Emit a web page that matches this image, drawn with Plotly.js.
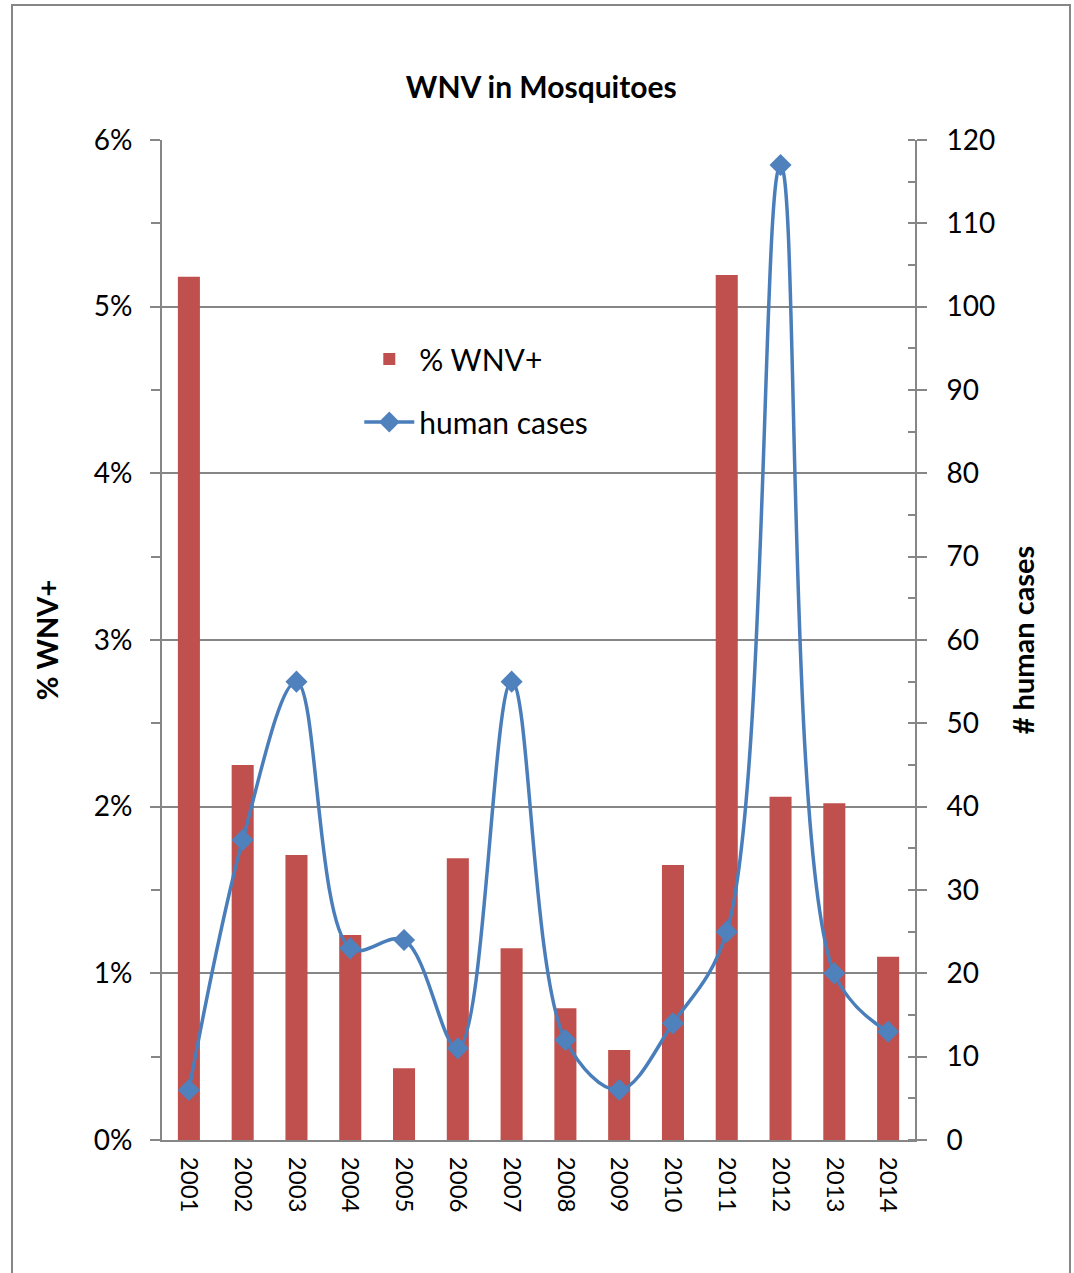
<!DOCTYPE html>
<html>
<head>
<meta charset="utf-8">
<script src="https://cdn.plot.ly/plotly-3.0.1.min.js"></script>
<style>
  html, body { margin: 0; padding: 0; background: #ffffff; }
  #chart { width: 1074px; height: 1273px; }
</style>
</head>
<body>
<div id="chart"></div>
<script>
// Data
const years = ['2001','2002','2003','2004','2005','2006','2007','2008','2009','2010','2011','2012','2013','2014'];
const pctWNV = [0.0518, 0.0225, 0.0171, 0.0123, 0.0043, 0.0169, 0.0115, 0.0079, 0.0054, 0.0165, 0.0519, 0.0206, 0.0202, 0.0110];
const humanCases = [6, 36, 55, 23, 24, 11, 55, 12, 6, 14, 25, 117, 20, 13];

const FONT = 'Lato, "Open Sans", "DejaVu Sans", sans-serif';
const GRAY = '#868686';

const traces = [
  {
    type: 'bar',
    name: '% WNV+',
    x: years,
    y: pctWNV,
    marker: { color: '#C0504D' },
    legendgroup: 'a',
    yaxis: 'y',
    hoverinfo: 'x+y'
  },
  {
    type: 'scatter',
    mode: 'lines+markers',
    name: 'human cases',
    x: years,
    y: humanCases,
    yaxis: 'y2',
    legendgroup: 'b',
    line: { color: '#4A7EBB', width: 3.5, shape: 'spline', smoothing: 1 },
    marker: { symbol: 'diamond', size: 17, color: '#4F81BD' }
  }
];

const layout = {
  width: 1074,
  height: 1273,
  margin: { l: 162, r: 159, t: 140, b: 133, pad: 0 },
  paper_bgcolor: '#ffffff',
  plot_bgcolor: '#ffffff',
  font: { family: FONT, color: '#000000' },
  title: {
    text: '<b>WNV in Mosquitoes</b>',
    font: { family: FONT, size: 30, color: '#000000' },
    x: 0.504, xanchor: 'center',
    y: 1 - 87 / 1273, yanchor: 'middle', yref: 'container'
  },
  bargap: 0.59,
  showlegend: true,
  legend: {
    x: 0.262, xanchor: 'left',
    y: 0.807, yanchor: 'top',
    bgcolor: 'rgba(0,0,0,0)',
    font: { family: FONT, size: 30, color: '#000000' },
    traceorder: 'grouped',
    tracegroupgap: 21,
    itemwidth: 50
  },
  xaxis: {
    type: 'category',
    range: [-0.5, 13.5],
    showline: true, linecolor: GRAY, linewidth: 2,
    ticks: '',
    tickangle: 90,
    ticklabelstandoff: 10,
    tickfont: { family: FONT, size: 24, color: '#000000' },
    showgrid: false,
    zeroline: false,
    automargin: false
  },
  yaxis: {
    range: [0, 0.06],
    dtick: 0.01,
    tickformat: '.0%',
    showline: true, linecolor: GRAY, linewidth: 2,
    ticks: 'outside', ticklen: 10, tickwidth: 2, tickcolor: GRAY,
    minor: { dtick: 0.005, ticks: 'outside', ticklen: 9, tickwidth: 2, tickcolor: GRAY, showgrid: false },
    showgrid: true, gridcolor: GRAY, gridwidth: 2,
    zeroline: false,
    ticklabelstandoff: 12,
    tickfont: { family: FONT, size: 28, color: '#000000' },
    title: { text: '<b>% WNV+</b>', font: { family: FONT, size: 29, color: '#000000' }, standoff: 27 },
    automargin: false
  },
  yaxis2: {
    overlaying: 'y',
    side: 'right',
    range: [0, 120],
    dtick: 10,
    showline: true, linecolor: GRAY, linewidth: 2,
    ticks: 'outside', ticklen: 10, tickwidth: 2, tickcolor: GRAY,
    minor: { dtick: 5, ticks: 'inside', ticklen: 7, tickwidth: 2, tickcolor: GRAY, showgrid: false },
    showgrid: false,
    zeroline: false,
    ticklabelstandoff: 14,
    tickfont: { family: FONT, size: 28, color: '#000000' },
    title: { text: '<b># human cases</b>', font: { family: FONT, size: 29, color: '#000000' }, standoff: 19 },
    automargin: false
  },
  shapes: [
    {
      type: 'rect', xref: 'paper', yref: 'paper',
      x0: (12 - 162) / 753, x1: (1070 - 162) / 753,
      y0: -0.15, y1: (1140 - 5) / 1000,
      line: { color: GRAY, width: 2 },
      fillcolor: 'rgba(0,0,0,0)',
      layer: 'below'
    }
  ]
};

Plotly.newPlot('chart', traces, layout, { displayModeBar: false, staticPlot: true });
</script>
</body>
</html>
